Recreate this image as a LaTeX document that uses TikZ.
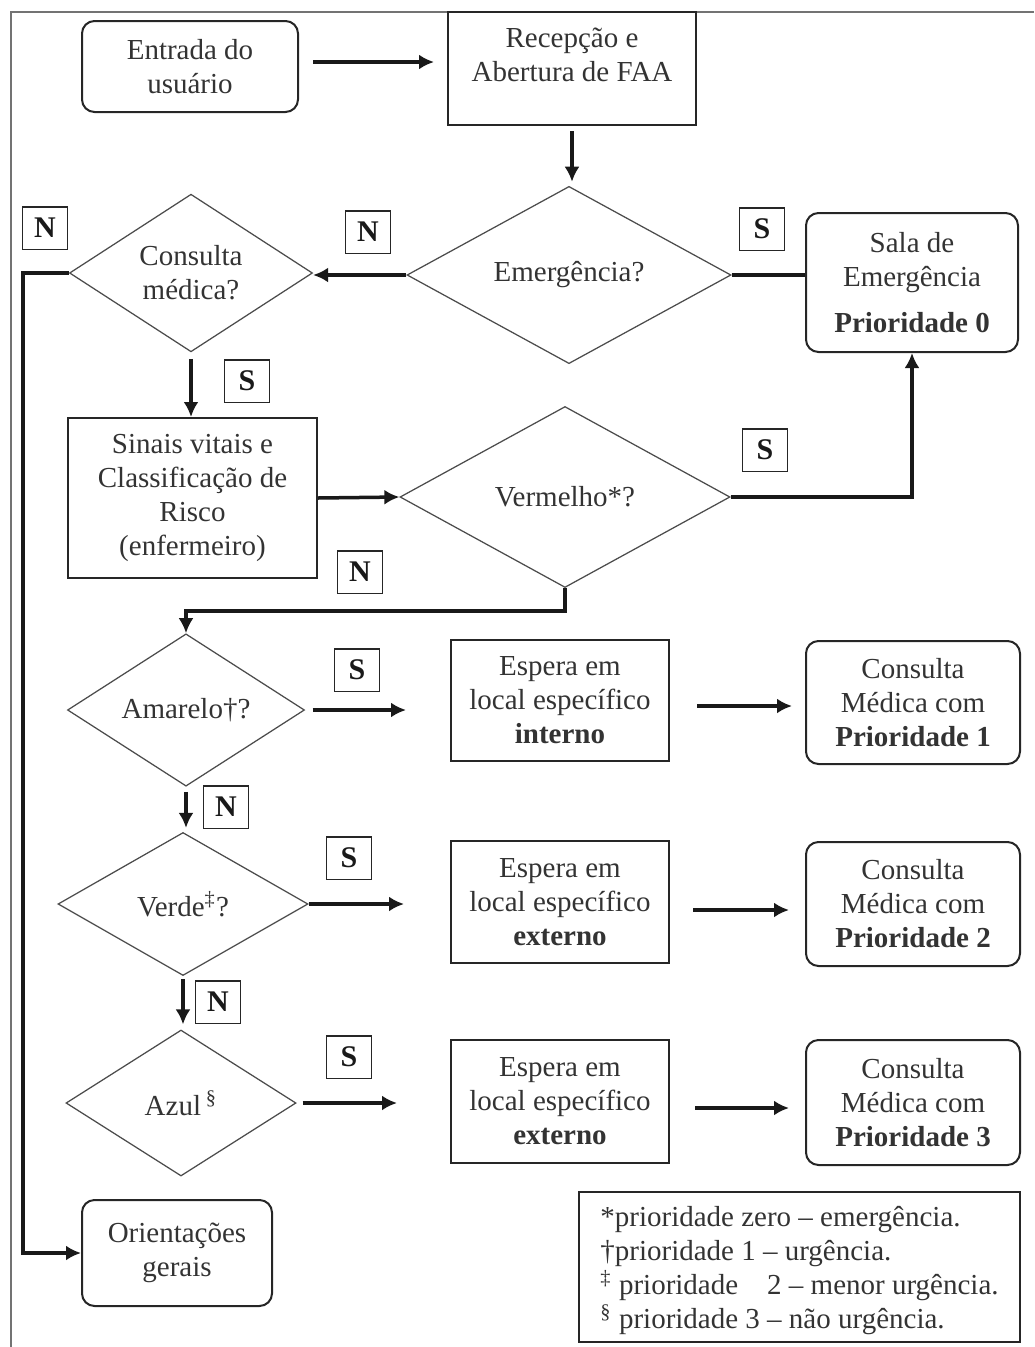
\documentclass[tikz,border=0pt]{standalone}
\usepackage{fontspec}
\setmainfont{Liberation Serif}
\usetikzlibrary{shapes.geometric,arrows.meta}
\begin{document}
\begin{tikzpicture}[x=0.4pt,y=-0.4pt,
  every node/.style={font=\fontsize{11.6}{13.6}\selectfont, text=black!80},
  box/.style 2 args={draw=black!85, line width=0.8pt, minimum width=#1*0.4pt, minimum height=#2*0.4pt, inner sep=0pt, align=center},
  rbox/.style 2 args={box={#1}{#2}, rounded corners=5pt},
  dia/.style 2 args={diamond, draw=black!70, line width=0.5pt, minimum width=#1*0.4pt, minimum height=#2*0.4pt, inner sep=0pt, align=center},
  tag/.style={draw=black!85, line width=0.6pt, minimum width=18pt, minimum height=17pt, inner sep=0pt, font=\fontsize{12}{14}\selectfont\bfseries, text=black!90},
  tip/.style={-{Latex[length=6pt,width=6pt]}},
  arr/.style={line width=1.4pt, draw=black!90, tip},
  ln/.style={line width=1.4pt, draw=black!90},
]
\useasboundingbox (0,0) rectangle (1034,1347);
% outer frame
\draw[black!55, line width=0.6pt] (11,1347) -- (11,12) -- (1034,12);

% nodes
\node[rbox={216}{91}] (entrada) at (190,66.5) {Entrada do\\usuário};
\node[box={248}{113}] (recep) at (572,68.5) {};
\node[align=center] (receptxt) at (572,55) {Recepção e\\Abertura de FAA};
\node[dia={324}{165}] (emerg) at (569,275) {Emergência?};
\node[rbox={212}{139}] (sala) at (912,282.5) {Sala de\\Emergência\\[4.8pt]\textbf{Prioridade 0}};
\node[dia={243}{157}] (cons) at (191,273) {Consulta\\médica?};
\node[box={249}{160}] (sinais) at (192.5,498) {Sinais vitais e\\Classificação de\\Risco\\(enfermeiro)};
\node[dia={330}{181}] (verm) at (565,497) {Vermelho*?};
\node[dia={237}{147}] (amar) at (186,710) {Amarelo†?};
\node[box={218}{121}] (esp1) at (560,700.5) {Espera em\\local específico\\\textbf{interno}};
\node[rbox={214}{123}] (cp1) at (913,702.5) {Consulta\\Médica com\\\textbf{Prioridade 1}};
\node[dia={250}{143}] (verde) at (183,904) {Verde\textsuperscript{‡}?};
\node[box={218}{122}] (esp2) at (560,902) {Espera em\\local específico\\\textbf{externo}};
\node[rbox={214}{124}] (cp2) at (913,904) {Consulta\\Médica com\\\textbf{Prioridade 2}};
\node[dia={230}{146}] (azul) at (181,1103) {Azul\,\textsuperscript{§}};
\node[box={218}{123}] (esp3) at (560,1101.5) {Espera em\\local específico\\\textbf{externo}};
\node[rbox={214}{125}] (cp3) at (913,1102.5) {Consulta\\Médica com\\\textbf{Prioridade 3}};
\node[rbox={190}{106}] (orient) at (177,1253) {Orientações\\gerais};
\node[box={441}{150}] (leg) at (799.5,1267) {};
\node[align=left] (legtxt) at (799.5,1271) {*prioridade zero – emergência.\\†prioridade 1 – urgência.\\\textsuperscript{‡} prioridade\quad 2 – menor urgência.\\\textsuperscript{§} prioridade 3 – não urgência.};

% tags
\node[tag] (n1) at (45,228) {N};
\node[tag] (n2) at (368,232) {N};
\node[tag] (s1) at (762,229) {S};
\node[tag] (s2) at (247,381) {S};
\node[tag] (s3) at (765,450) {S};
\node[tag] (n3) at (360,572) {N};
\node[tag] (s4) at (357,670) {S};
\node[tag] (n4) at (226,807) {N};
\node[tag] (s5) at (349,858) {S};
\node[tag] (n5) at (218,1002) {N};
\node[tag] (s6) at (349,1057) {S};

% connectors
\draw[arr, shorten <=5.6pt, shorten >=5.2pt] ([yshift=1.8pt]entrada.east) -- ([yshift=1.8pt]entrada.east -| recep.west);
\draw[arr, shorten <=2pt, shorten >=1.6pt] (recep.south) -- (recep.south |- emerg.north);
\draw[ln] (emerg.east) -- (emerg.east -| sala.west);
\draw[arr] (emerg.west) -- (emerg.west -| cons.east);
\coordinate (lft) at (23,273);
\draw[ln, tip] (cons.west) -- (lft) |- (orient.west);
\draw[arr, shorten <=2.6pt] (cons.south) -- (cons.south |- sinais.north);
\draw[arr] (sinais.east) -- (verm.west);
\draw[arr] (verm.east) -| (sala.south);
\draw[arr] (verm.south) -- ++(0,23) -| (amar.north);
\draw[arr, shorten <=3pt, shorten >=17.6pt] (amar.east) -- (amar.east -| esp1.west);
\draw[arr, shorten <=10.8pt, shorten >=5.2pt] ([yshift=-2.2pt]esp1.east) -- ([yshift=-2.2pt]esp1.east -| cp1.west);
\draw[arr, shorten <=2pt, shorten >=1.6pt] (amar.south) -- (amar.south |- verde.north);
\draw[arr, shorten <=0pt, shorten >=18.4pt] (verde.east) -- (verde.east -| esp2.west);
\draw[arr, shorten <=9.2pt, shorten >=6.4pt] ([yshift=-3.2pt]esp2.east) -- ([yshift=-3.2pt]esp2.east -| cp2.west);
\draw[arr, shorten <=1.2pt, shorten >=2pt] (verde.south) -- (verde.south |- azul.north);
\draw[arr, shorten <=2.4pt, shorten >=21.2pt] (azul.east) -- (azul.east -| esp3.west);
\draw[arr, shorten <=10pt, shorten >=6.4pt] ([yshift=-2.6pt]esp3.east) -- ([yshift=-2.6pt]esp3.east -| cp3.west);
\end{tikzpicture}
\end{document}
